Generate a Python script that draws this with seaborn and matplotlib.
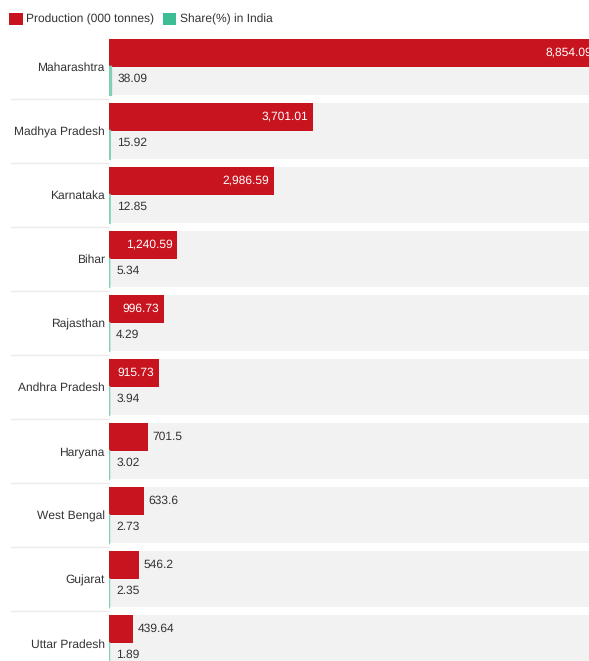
import numpy as np
import pandas as pd
import matplotlib
matplotlib.use("Agg")
import matplotlib.pyplot as plt
import matplotlib.transforms as mtransforms
from matplotlib.patches import Patch
import seaborn as sns

states = ["Maharashtra", "Madhya Pradesh", "Karnataka", "Bihar", "Rajasthan",
          "Andhra Pradesh", "Haryana", "West Bengal", "Gujarat", "Uttar Pradesh"]
production = [8854.09, 3701.01, 2986.59, 1240.59, 996.73, 915.73, 701.5, 633.6, 546.2, 439.64]
share = [38.09, 15.92, 12.85, 5.34, 4.29, 3.94, 3.02, 2.73, 2.35, 1.89]
series = ["Production (000 tonnes)", "Share(%) in India"]

RED = "#c8141f"
GREEN = "#3dbd95"
BAR_GREEN = "#7fd0b6"
BAND = "#f2f2f2"
TXT = "#333333"

sns.set_style("white")
plt.rcParams["font.family"] = ["Liberation Sans", "DejaVu Sans"]
plt.rcParams["text.hinting"] = "no_hinting"
plt.rcParams["text.hinting_factor"] = 1
FS = 8.6

df = pd.DataFrame({
    "State": states * 2,
    "Value": production + share,
    "Metric": [series[0]] * len(states) + [series[1]] * len(states),
})

fig = plt.figure(figsize=(5.89, 6.61), dpi=100)
ax = fig.add_axes([109 / 589, 0, 1 - 109 / 589, 625 / 661])

sns.barplot(data=df, y="State", x="Value", hue="Metric", orient="h",
            order=states, hue_order=series, palette=[RED, BAR_GREEN],
            width=0.88, saturation=1, errorbar=None, legend=False, ax=ax)

n = len(states)
ypos = np.arange(n)
# background bands
ax.barh(ypos, 100000, height=0.88, color=BAND, zorder=0, linewidth=0)

prod_bars, share_bars = ax.containers[0], ax.containers[1]
for p in prod_bars:
    p.set_zorder(2)
    p.set_linewidth(0)
for p in share_bars:
    p.set_zorder(2)
    p.set_snap(False)
    p.set_edgecolor(BAR_GREEN)
    p.set_linewidth(1.5)

xmax = (589 - 109) / ((313 - 109) / 3701.01)
ax.set_xlim(0, xmax)
ax.set_ylim(9.28, -0.48)

# value labels
INSIDE_MIN = 800
for p, v in zip(prod_bars, production):
    yc = p.get_y() + p.get_height() / 2
    label = format(v, ",")
    if v > INSIDE_MIN:
        ax.annotate(label, (p.get_width(), yc), xytext=(-3.5, 0), textcoords="offset points",
                    ha="right", va="center", color="white", fontsize=FS, zorder=5,
                    annotation_clip=False)
    else:
        ax.annotate(label, (p.get_width(), yc), xytext=(3.5, 0), textcoords="offset points",
                    ha="left", va="center", color=TXT, fontsize=FS, zorder=5,
                    annotation_clip=False)
for p, v in zip(share_bars, share):
    yc = p.get_y() + p.get_height() / 2
    ax.annotate(format(v, ","), (p.get_width(), yc), xytext=(5, 1.5), textcoords="offset points",
                ha="left", va="center", color=TXT, fontsize=FS, zorder=5,
                annotation_clip=False)

# separators on the left
trans = mtransforms.blended_transform_factory(ax.transAxes, ax.transData)
ax.hlines(ypos[:-1] + 0.5, (10 - 109) / 480, 0, transform=trans, colors="#ebebeb",
          linewidth=1, clip_on=False)

ax.set_yticks(ypos)
ax.set_yticklabels(states, fontsize=FS, color=TXT)
ax.tick_params(axis="y", length=0, pad=3)
ax.set_xticks([])
ax.set_xlabel("")
ax.set_ylabel("")
for s in ax.spines.values():
    s.set_visible(False)

handles = [Patch(facecolor=RED, edgecolor="none"), Patch(facecolor=GREEN, edgecolor="none")]
fig.legend(handles, series, loc="upper left", bbox_to_anchor=(9 / 589, 1 - 13 / 661),
           ncol=2, frameon=False, fontsize=FS, borderpad=0, borderaxespad=0,
           handlelength=1.15, handleheight=1.15, handletextpad=0.3, columnspacing=0.7,
           labelcolor=TXT)

fig.savefig("out.png", dpi=100)
